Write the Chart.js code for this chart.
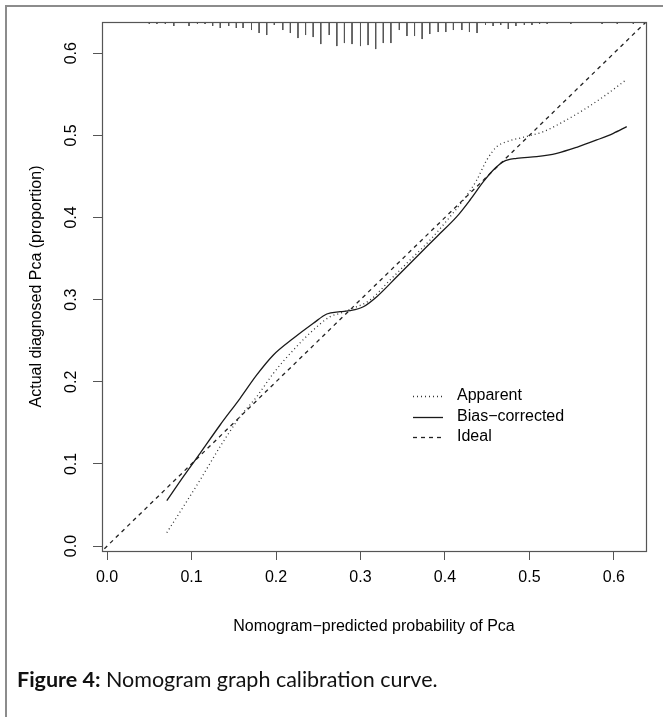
<!DOCTYPE html>
<html><head><meta charset="utf-8">
<script src="https://cdn.jsdelivr.net/npm/chart.js@4/dist/chart.umd.min.js"></script>
<style>
html,body{margin:0;padding:0;background:#fff;}
#wrap{position:relative;width:663px;height:717px;overflow:hidden;background:#fff;}
#frame{position:absolute;left:5px;top:5px;width:700px;height:800px;border-left:2px solid #8c8c8c;border-top:2px solid #8c8c8c;}
canvas{position:absolute;left:0;top:0;}
#caption{position:absolute;left:17px;top:666px;font-family:Lato,"Open Sans",sans-serif;font-size:21.5px;color:#111;white-space:nowrap;}
</style></head>
<body><div id="wrap"><div id="frame"></div><canvas id="c" width="663" height="717"></canvas><div id="caption"><b>Figure 4:</b> Nomogram graph calibration curve.</div></div>
<script>
// ---- data ----
const xTickValues = [0, 0.1, 0.2, 0.3, 0.4, 0.5, 0.6];
const xTickLabels = ['0.0', '0.1', '0.2', '0.3', '0.4', '0.5', '0.6'];
const yTickValues = [0, 0.1, 0.2, 0.3, 0.4, 0.5, 0.6];
const yTickLabels = ['0.0', '0.1', '0.2', '0.3', '0.4', '0.5', '0.6'];
const seriesNames = ['Apparent', 'Bias\u2212corrected', 'Ideal'];

const apparentX = [0.0707, 0.0903, 0.1101, 0.1338, 0.1575, 0.1772, 0.1969, 0.2206, 0.2442, 0.2640, 0.2758, 0.2877, 0.3114, 0.3350, 0.3587, 0.3824, 0.4061, 0.4218, 0.4377, 0.4495, 0.4613, 0.4732, 0.4929, 0.5165, 0.5402, 0.5639, 0.5876, 0.6132];
const apparentY = [0.0163, 0.0479, 0.0804, 0.1210, 0.1575, 0.1819, 0.2103, 0.2387, 0.2631, 0.2793, 0.2834, 0.2882, 0.2996, 0.3239, 0.3483, 0.3726, 0.4010, 0.4213, 0.4457, 0.4700, 0.4862, 0.4923, 0.4977, 0.5045, 0.5167, 0.5309, 0.5471, 0.5666];

const biasX = [0.0707, 0.0903, 0.1101, 0.1338, 0.1575, 0.1772, 0.1969, 0.2206, 0.2442, 0.2601, 0.2758, 0.2877, 0.3034, 0.3193, 0.3430, 0.3666, 0.3903, 0.4140, 0.4297, 0.4455, 0.4573, 0.4692, 0.4849, 0.5086, 0.5324, 0.5560, 0.5797, 0.5994, 0.6152];
const biasY = [0.0552, 0.0845, 0.1129, 0.1474, 0.1799, 0.2083, 0.2326, 0.2529, 0.2712, 0.2825, 0.2853, 0.2866, 0.2914, 0.3036, 0.3279, 0.3523, 0.3766, 0.4010, 0.4213, 0.4436, 0.4578, 0.4680, 0.4721, 0.4741, 0.4782, 0.4855, 0.4944, 0.5025, 0.5106];

const idealX = [-0.01, 0.65];

// distribution of predicted probabilities (top rug): positions and relative frequency
const rugX = [0.050, 0.059, 0.069, 0.079, 0.097, 0.107, 0.116, 0.125, 0.134, 0.144, 0.153, 0.161, 0.171, 0.180, 0.189, 0.198, 0.208, 0.217, 0.226, 0.235, 0.244, 0.253, 0.263, 0.272, 0.281, 0.290, 0.300, 0.309, 0.318, 0.327, 0.336, 0.346, 0.355, 0.364, 0.373, 0.382, 0.392, 0.401, 0.410, 0.420, 0.429, 0.438, 0.448, 0.457, 0.466, 0.475, 0.484, 0.494, 0.503, 0.512, 0.521, 0.549, 0.586, 0.604, 0.623];
const rugFreq = [2, 2, 2, 4, 4, 2, 2, 4, 6, 4, 6, 6, 8, 11, 13, 3, 8, 11, 16, 13, 15, 22, 13, 24, 21, 22, 24, 23, 27, 21, 21, 8, 14, 14, 17, 12, 10, 10, 8, 8, 10, 11, 3, 4, 3, 7, 4, 3, 3, 2, 2, 2, 2, 2, 2];

// ---- chart ----
const X_MIN = -0.006, X_MAX = 0.638, Y_MIN = -0.006, Y_MAX = 0.638;
const RUG_UNIT = 0.00122;
const FONT = "'Liberation Sans', Arial, Helvetica, sans-serif";

const rugData = [];
rugX.forEach((v, i) => {
  rugData.push({x: v, y: Y_MAX});
  rugData.push({x: v, y: Y_MAX - rugFreq[i] * RUG_UNIT});
  rugData.push({x: v, y: null});
});

const boxPlugin = {
  id: 'box',
  afterDatasetsDraw(chart) {
    const {ctx, chartArea: a} = chart;
    ctx.save();
    ctx.strokeStyle = '#555';
    ctx.lineWidth = 1.2;
    ctx.strokeRect(Math.round(a.left) + 0.5, Math.round(a.top) + 0.5, Math.round(a.right - a.left), Math.round(a.bottom - a.top));
    ctx.restore();
  }
};

const yLabelPlugin = {
  id: 'ylabels',
  afterDraw(chart) {
    const {ctx} = chart;
    const s = chart.scales.y;
    ctx.save();
    ctx.fillStyle = '#000';
    ctx.font = '16px ' + FONT;
    ctx.textAlign = 'center';
    ctx.textBaseline = 'middle';
    yTickValues.forEach((v, i) => {
      const py = s.getPixelForValue(v);
      ctx.save();
      ctx.translate(72, py);
      ctx.rotate(-Math.PI / 2);
      ctx.fillText(yTickLabels[i], 0, 0);
      ctx.restore();
    });
    ctx.restore();
  }
};

const legendPlugin = {
  id: 'rlegend',
  afterDraw(chart) {
    const {ctx, chartArea: a} = chart;
    const styles = [
      {dash: [1, 3], color: '#333'},
      {dash: [], color: '#1a1a1a'},
      {dash: [4, 4], color: '#222'}
    ];
    const x0 = a.left + 311, x1 = a.left + 341, tx = a.left + 355;
    const rows = [a.top + 374, a.top + 395, a.top + 415];
    ctx.save();
    ctx.font = '16px ' + FONT;
    ctx.textBaseline = 'middle';
    ctx.textAlign = 'left';
    seriesNames.forEach((name, i) => {
      ctx.beginPath();
      ctx.setLineDash(styles[i].dash);
      ctx.strokeStyle = styles[i].color;
      ctx.lineWidth = 1.3;
      ctx.moveTo(x0, rows[i] + 0.5);
      ctx.lineTo(x1, rows[i] + 0.5);
      ctx.stroke();
      ctx.setLineDash([]);
      ctx.fillStyle = '#000';
      ctx.fillText(name, tx, rows[i]);
    });
    ctx.restore();
  }
};

new Chart(document.getElementById('c'), {
  type: 'line',
  data: {
    datasets: [
      {label: seriesNames[0], data: apparentX.map((x, i) => ({x, y: apparentY[i]})), borderColor: '#333', borderWidth: 1.3, borderDash: [1, 3], pointRadius: 0, cubicInterpolationMode: 'monotone', fill: false},
      {label: seriesNames[1], data: biasX.map((x, i) => ({x, y: biasY[i]})), borderColor: '#1a1a1a', borderWidth: 1.3, pointRadius: 0, cubicInterpolationMode: 'monotone', fill: false},
      {label: seriesNames[2], data: idealX.map(v => ({x: v, y: v})), borderColor: '#222', borderWidth: 1.3, borderDash: [4, 4], pointRadius: 0, fill: false},
      {label: 'rug', data: rugData, borderColor: '#555', borderWidth: 1, pointRadius: 0, spanGaps: false, tension: 0, fill: false}
    ]
  },
  options: {
    responsive: false,
    animation: false,
    devicePixelRatio: 1,
    parsing: true,
    layout: {padding: {left: 0, top: 22, right: 17, bottom: 0}},
    plugins: {legend: {display: false}, tooltip: {enabled: false}},
    scales: {
      x: {
        type: 'linear', min: X_MIN, max: X_MAX,
        afterFit(s) { s.height = 166; },
        afterBuildTicks(s) { s.ticks = xTickValues.map(v => ({value: v})); },
        grid: {drawOnChartArea: false, drawTicks: true, tickLength: 9, color: '#555', lineWidth: 1},
        border: {display: true, color: '#555', width: 1},
        ticks: {font: {family: FONT, size: 16}, color: '#000', padding: 8, maxRotation: 0, autoSkip: false,
                callback: (v, i) => xTickLabels[i]},
        title: {display: true, text: 'Nomogram\u2212predicted probability of Pca', font: {family: FONT, size: 16}, color: '#000', padding: {top: 0, bottom: 81}}
      },
      y: {
        type: 'linear', min: Y_MIN, max: Y_MAX,
        afterFit(s) { s.width = 102; },
        afterBuildTicks(s) { s.ticks = yTickValues.map(v => ({value: v})); },
        grid: {drawOnChartArea: false, drawTicks: true, tickLength: 9, color: '#555', lineWidth: 1},
        border: {display: true, color: '#555', width: 1},
        ticks: {font: {family: FONT, size: 16}, color: 'rgba(0,0,0,0)', padding: 8, autoSkip: false,
                callback: (v, i) => yTickLabels[i]},
        title: {display: true, text: 'Actual diagnosed Pca (proportion)', font: {family: FONT, size: 16}, color: '#000', padding: {top: 27, bottom: 0}}
      }
    }
  },
  plugins: [boxPlugin, yLabelPlugin, legendPlugin]
});
</script>
</body></html>
